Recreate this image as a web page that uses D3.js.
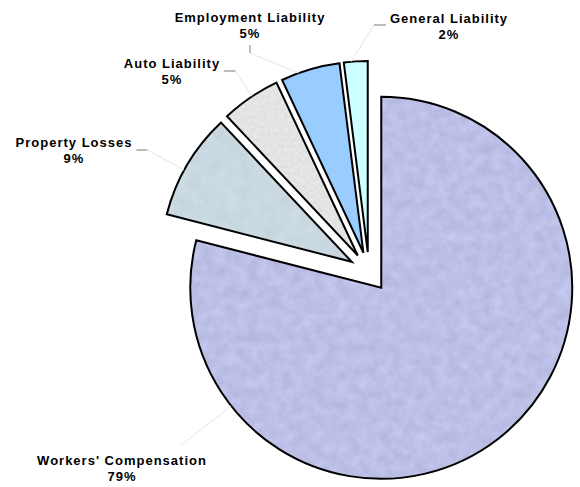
<!DOCTYPE html>
<html>
<head>
<meta charset="utf-8">
<script src="https://cdn.jsdelivr.net/npm/d3@7"></script>
<style>
  html, body { margin: 0; padding: 0; background: #ffffff; }
  svg { display: block; }
  .lbl { font-family: "Liberation Sans", Arial, sans-serif; font-weight: bold; font-size: 13px; letter-spacing: 1px; fill: #000; }
</style>
</head>
<body>
<svg id="chart" width="580" height="487"></svg>
<script>
// Loss distribution by category (percent of total)
const categories = ["Workers' Compensation", "Property Losses", "Auto Liability", "Employment Liability", "General Liability"];
const shares = [79, 9, 5, 5, 2];
const fills = ["#bcbfe6", "#cad8e1", "#e2e4e6", "#99ccff", "#ccffff"];
const textures = ["mottle", "mottleSoft", "speckle", null, null];

// Where each label sits and which side its leader stub leaves from
const labelLayout = [
  { x: 122, y: 465, stub: "above" },
  { x: 74,  y: 147, stub: "right" },
  { x: 172, y: 68,  stub: "right" },
  { x: 250, y: 22,  stub: "below" },
  { x: 449, y: 23,  stub: "left" }
];

const W = 580, H = 487;
const cx = 369, cy = 272, radius = 191, explode = 20;

const svg = d3.select("#chart");
const defs = svg.append("defs");

// Surface textures: grey noise added onto the fill, clipped to the slice
function textureFilter(id, freq, octaves, amount, seed) {
  const f = defs.append("filter").attr("id", id)
    .attr("color-interpolation-filters", "sRGB")
    .attr("x", "-5%").attr("y", "-5%").attr("width", "110%").attr("height", "110%");
  f.append("feTurbulence").attr("type", "fractalNoise")
    .attr("baseFrequency", freq).attr("numOctaves", octaves).attr("seed", seed).attr("result", "n");
  f.append("feColorMatrix").attr("in", "n").attr("type", "matrix")
    .attr("values", "1 0 0 0 0  1 0 0 0 0  1 0 0 0 0  0 0 0 0 1").attr("result", "g");
  f.append("feComposite").attr("in", "SourceGraphic").attr("in2", "g")
    .attr("operator", "arithmetic").attr("k1", 0).attr("k2", 1)
    .attr("k3", amount).attr("k4", -amount / 2).attr("result", "m");
  f.append("feComposite").attr("in", "m").attr("in2", "SourceGraphic").attr("operator", "in");
}
textureFilter("mottle", 0.09, 3, 0.11, 7);
textureFilter("mottleSoft", 0.08, 3, 0.06, 3);
textureFilter("speckle", 0.3, 2, 0.08, 11);

svg.append("rect").attr("width", W).attr("height", H).attr("fill", "#ffffff");

const data = categories.map((c, i) => ({ name: c, value: shares[i], fill: fills[i], texture: textures[i], layout: labelLayout[i] }));

const pie = d3.pie().sort(null).value(d => d.value).startAngle(0).endAngle(2 * Math.PI);
const arc = d3.arc().innerRadius(0).outerRadius(radius);
const arcs = pie(data);

// Exploded offset of a slice along its bisector
function offset(a) {
  const mid = (a.startAngle + a.endAngle) / 2;
  return [Math.sin(mid) * explode, -Math.cos(mid) * explode];
}

const slices = svg.append("g").attr("transform", `translate(${cx},${cy})`);
const sg = slices.selectAll("g.slice").data(arcs).join("g")
  .attr("class", "slice")
  .attr("transform", a => { const o = offset(a); return `translate(${o[0]},${o[1]})`; });

sg.append("path")
  .attr("d", arc)
  .attr("fill", a => a.data.fill)
  .attr("filter", a => a.data.texture ? `url(#${a.data.texture})` : null);

sg.append("path")
  .attr("d", arc)
  .attr("fill", "none")
  .attr("stroke", "#000")
  .attr("stroke-width", 2)
  .attr("stroke-linejoin", "miter");

// Labels
const lg = svg.append("g");
arcs.forEach(a => {
  const L = a.data.layout;
  const t1 = lg.append("text").attr("class", "lbl").attr("x", L.x).attr("y", L.y)
    .attr("text-anchor", "middle").text(a.data.name);
  lg.append("text").attr("class", "lbl").attr("x", L.x).attr("y", L.y + 15.5)
    .attr("text-anchor", "middle").text(a.data.value + "%");
  const bb = t1.node().getBBox();

  // Stub next to the label, then a faint line to the slice edge
  let stub = null, start;
  if (L.stub === "right") {
    const x0 = bb.x + bb.width + 4, yb = L.y + 3;
    stub = [[x0, yb], [x0 + 11, yb]];
    start = [x0 + 11, yb];
  } else if (L.stub === "left") {
    const x0 = bb.x - 4, yb = L.y + 2;
    stub = [[x0 - 12, yb], [x0, yb]];
    start = [x0 - 12, yb];
  } else if (L.stub === "below") {
    const y0 = L.y + 23;
    stub = [[L.x, y0], [L.x, y0 + 8]];
    start = [L.x, y0 + 8];
  } else {
    start = [bb.x + bb.width * 0.85, bb.y - 8];
  }

  const o = offset(a);
  const ax = cx + o[0], ay = cy + o[1];
  let ang = Math.atan2(start[0] - ax, -(start[1] - ay));
  if (ang < 0) ang += 2 * Math.PI;
  const span = a.endAngle - a.startAngle;
  const inset = Math.min(span * 0.3, 10 * Math.PI / 180);
  ang = Math.max(a.startAngle + inset, Math.min(a.endAngle - inset, ang));
  const end = [ax + Math.sin(ang) * radius, ay - Math.cos(ang) * radius];

  lg.append("line")
    .attr("x1", start[0]).attr("y1", start[1]).attr("x2", end[0]).attr("y2", end[1])
    .attr("stroke", "#e6e6e6").attr("stroke-width", 1);
  if (stub) {
    lg.append("line")
      .attr("x1", stub[0][0]).attr("y1", stub[0][1]).attr("x2", stub[1][0]).attr("y2", stub[1][1])
      .attr("stroke", "#7a7a7a").attr("stroke-width", 1);
  }
});
</script>
</body>
</html>
